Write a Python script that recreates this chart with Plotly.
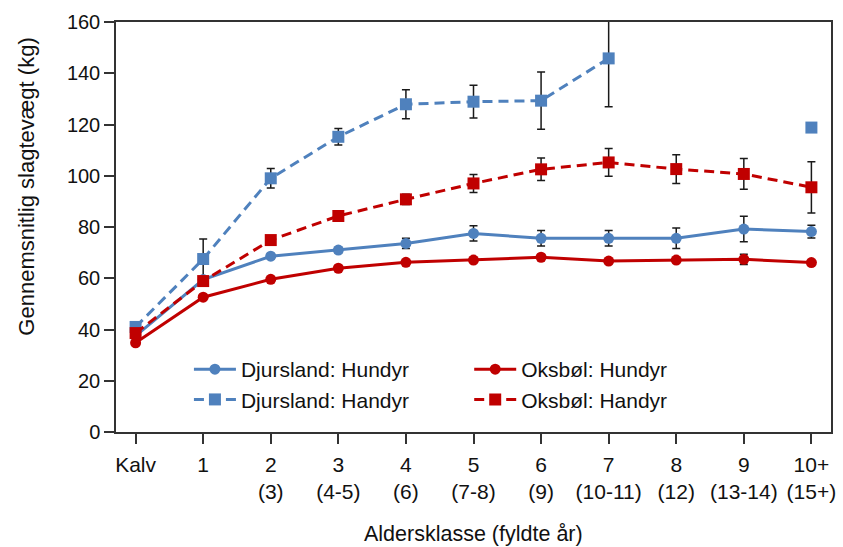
import plotly.graph_objects as go

categories = ["Kalv", "1", "2<br>(3)", "3<br>(4-5)", "4<br>(6)", "5<br>(7-8)", "6<br>(9)",
              "7<br>(10-11)", "8<br>(12)", "9<br>(13-14)", "10+<br>(15+)"]

djurs_hun = [37.5, 59.5, 68.6, 71.0, 73.6, 77.5, 75.6, 75.6, 75.6, 79.2, 78.2]
djurs_hun_err = [0, 0, 1.0, 1.0, 2.0, 3.0, 3.0, 3.0, 4.0, 5.0, 2.5]

djurs_han = [41.0, 67.5, 99.0, 115.2, 127.9, 128.9, 129.3, 145.8, None, None, 118.8]
djurs_han_err = [0, 7.8, 3.8, 3.2, 5.7, 6.4, 11.2, 18.9, 0, 0, 0]

oks_hun = [34.8, 52.6, 59.6, 63.9, 66.2, 67.1, 68.2, 66.7, 67.1, 67.4, 66.1]
oks_hun_err = [0, 0, 0, 0, 0, 0, 0, 0, 0, 2.0, 0]

oks_han = [38.6, 58.9, 74.9, 84.3, 90.8, 97.0, 102.5, 105.2, 102.6, 100.7, 95.5]
oks_han_err = [0, 1.0, 1.0, 1.5, 2.0, 3.5, 4.4, 5.4, 5.6, 6.0, 10.0]

BLUE = "#4F81BD"
RED = "#C00000"
FONT = "Liberation Sans, Arial, sans-serif"

def err(arr):
    return dict(type="data", array=arr, visible=True, color="#1a1a1a", thickness=1.5, width=4)

fig = go.Figure()
fig.add_trace(go.Scatter(x=categories, y=djurs_han, name="Djursland: Handyr", mode="lines+markers",
                         line=dict(color=BLUE, width=3, dash="10px,6px"),
                         marker=dict(symbol="square", size=12, color=BLUE),
                         error_y=err(djurs_han_err), connectgaps=False,
                         legend="legend", legendrank=2))
fig.add_trace(go.Scatter(x=categories, y=djurs_hun, name="Djursland: Hundyr", mode="lines+markers",
                         line=dict(color=BLUE, width=3),
                         marker=dict(symbol="circle", size=11, color=BLUE),
                         error_y=err(djurs_hun_err),
                         legend="legend", legendrank=1))
fig.add_trace(go.Scatter(x=categories, y=oks_han, name="Oksbøl: Handyr", mode="lines+markers",
                         line=dict(color=RED, width=3, dash="10px,6px"),
                         marker=dict(symbol="square", size=12, color=RED),
                         error_y=err(oks_han_err),
                         legend="legend2", legendrank=2))
fig.add_trace(go.Scatter(x=categories, y=oks_hun, name="Oksbøl: Hundyr", mode="lines+markers",
                         line=dict(color=RED, width=3),
                         marker=dict(symbol="circle", size=11, color=RED),
                         error_y=err(oks_hun_err),
                         legend="legend2", legendrank=1))

legend_common = dict(font=dict(family=FONT, size=21, color="#111"), bgcolor="rgba(0,0,0,0)",
                     xanchor="left", yanchor="top", traceorder="normal", itemwidth=42,
                     tracegroupgap=0)

fig.update_layout(
    width=843, height=547,
    margin=dict(l=116, r=7, t=22, b=115),
    paper_bgcolor="white", plot_bgcolor="white",
    font=dict(family=FONT, size=20, color="#111"),
    showlegend=True,
    legend=dict(x=0.102, y=0.2025, **legend_common),
    legend2=dict(x=0.494, y=0.2025, **legend_common),
    xaxis=dict(type="category", range=[-0.29, 10.29], showline=True, linecolor="#333", linewidth=1.5,
               mirror=True, ticks="outside", ticklen=10, tickwidth=1.5, tickcolor="#333",
               showgrid=False, zeroline=False, tickfont=dict(size=21), ticklabelstandoff=3),
    yaxis=dict(range=[0, 160], tickvals=[0, 20, 40, 60, 80, 100, 120, 140, 160],
               showline=True, linecolor="#333", linewidth=1.5, mirror=True,
               ticks="outside", ticklen=10, tickwidth=1.5, tickcolor="#333",
               showgrid=False, zeroline=False, tickfont=dict(size=20)),
    annotations=[
        dict(text="Gennemsnitlig slagtevægt (kg)", xref="paper", yref="paper",
             x=(25 - 116) / 720, y=(432 - 187) / 410, textangle=-90, showarrow=False,
             xanchor="center", yanchor="middle", font=dict(size=22)),
        dict(text="Aldersklasse (fyldte år)", xref="paper", yref="paper",
             x=0.5, y=(432 - 534) / 410, showarrow=False,
             xanchor="center", yanchor="middle", font=dict(size=21.5)),
    ],
)

fig.write_html("out.html")
